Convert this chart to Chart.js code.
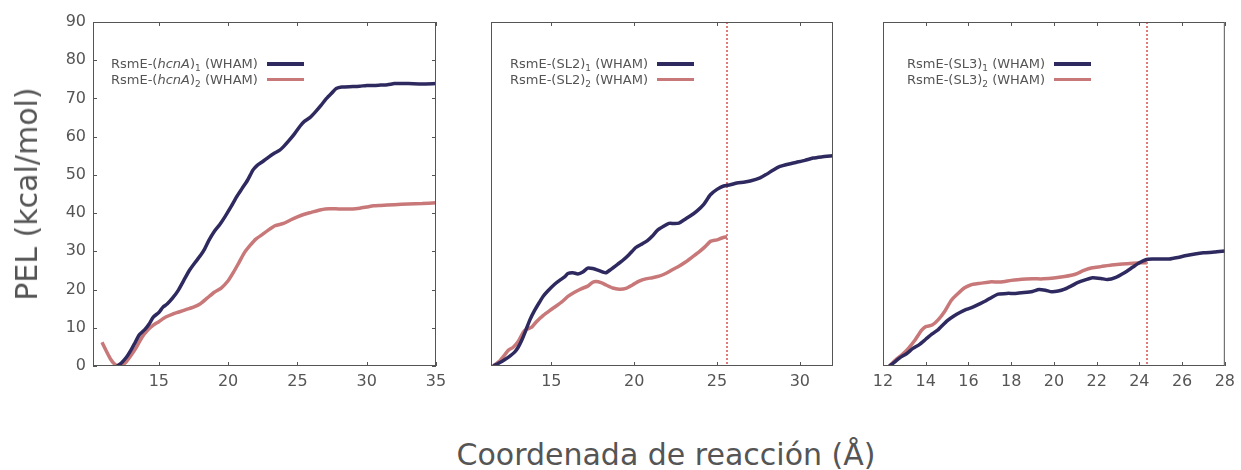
<!DOCTYPE html>
<html>
<head>
<meta charset="utf-8">
<script src="https://cdn.jsdelivr.net/npm/chart.js@4.4.1/dist/chart.umd.min.js"></script>
<style>
body { margin: 0; background: #fff; font-family: "DejaVu Sans", sans-serif; color: #555; }
#wrap { position: relative; width: 1241px; height: 470px; overflow: hidden; }
#wrap canvas { position: absolute; top: 0; }
.leg { position: absolute; top: 56px; display: grid; grid-template-columns: auto 37px; column-gap: 9px;
       font-size: 13px; line-height: 15.5px; align-items: center; white-space: nowrap; }
.leg .h { height: 3.5px; }
.leg sub { font-size: 9px; line-height: 0; vertical-align: -3px; }
.title { position: absolute; font-size: 30px; line-height: 30px; white-space: nowrap; }
</style>
</head>
<body>
<div id="wrap">
  <canvas id="c1" width="460" height="400" style="left:0"></canvas>
  <canvas id="c2" width="380" height="400" style="left:470px"></canvas>
  <canvas id="c3" width="381" height="400" style="left:860px"></canvas>

  <div class="leg" style="left:111px">
    <span>RsmE-(<i>hcnA</i>)<sub>1</sub> (WHAM)</span><span class="h" style="background:#2e2a60"></span>
    <span>RsmE-(<i>hcnA</i>)<sub>2</sub> (WHAM)</span><span class="h" style="background:#c87878"></span>
  </div>
  <div class="leg" style="left:510px">
    <span>RsmE-(SL2)<sub>1</sub> (WHAM)</span><span class="h" style="background:#2e2a60"></span>
    <span>RsmE-(SL2)<sub>2</sub> (WHAM)</span><span class="h" style="background:#c87878"></span>
  </div>
  <div class="leg" style="left:907px">
    <span>RsmE-(SL3)<sub>1</sub> (WHAM)</span><span class="h" style="background:#2e2a60"></span>
    <span>RsmE-(SL3)<sub>2</sub> (WHAM)</span><span class="h" style="background:#c87878"></span>
  </div>

  <div class="title" style="left:26.6px;top:194px;transform:translate(-50%,-50%) rotate(-90deg)">PEL (kcal/mol)</div>
  <div class="title" style="left:666px;top:440px;transform:translateX(-50%)">Coordenada de reacción (Å)</div>
</div>

<script>
// ── Data ──
const yTicks = [0, 10, 20, 30, 40, 50, 60, 70, 80, 90];
const xTicksHcnA = [15, 20, 25, 30, 35];
const xTicksSL2 = [15, 20, 25, 30];
const xTicksSL3 = [12, 14, 16, 18, 20, 22, 24, 26, 28];

const hcnA1X = [12.0, 12.3, 12.7, 13.0, 13.3, 13.6, 14.0, 14.3, 14.6, 15.0, 15.3, 15.6, 16.0, 16.4, 16.8, 17.2, 17.6, 18.0, 18.3, 18.6,
                19.0, 19.4, 19.8, 20.2, 20.6, 21.0, 21.4, 21.8, 22.1, 22.5, 22.9, 23.3, 23.7, 24.0, 24.4, 24.8, 25.2, 25.5, 25.9, 26.3,
                26.7, 27.1, 27.5, 27.8, 28.2, 29.0, 29.5, 30.0, 30.5, 31.0, 31.5, 32.0, 32.5, 33.0, 34.0, 35.0];
const hcnA1Y = [0.0, 0.8, 2.5, 4.2, 6.2, 8.2, 9.6, 11.0, 12.8, 14.0, 15.4, 16.2, 17.8, 19.8, 22.4, 25.0, 27.0, 28.9, 30.6, 32.8,
                35.2, 37.0, 39.2, 41.6, 44.2, 46.4, 48.6, 51.3, 52.5, 53.5, 54.6, 55.6, 56.4, 57.4, 59.0, 60.8, 62.8, 64.0, 65.0, 66.5,
                68.2, 70.0, 71.5, 72.6, 73.0, 73.1, 73.2, 73.4, 73.4, 73.5, 73.6, 73.9, 73.9, 73.9, 73.8, 73.9];
const hcnA2X = [10.9, 11.2, 11.5, 11.8, 12.0, 12.3, 12.6, 13.0, 13.4, 13.8, 14.2, 14.6, 15.0, 15.5, 16.0, 16.5, 17.0, 17.5, 18.0, 18.5,
                19.0, 19.5, 20.0, 20.4, 20.8, 21.2, 21.6, 22.0, 22.5, 23.0, 23.4, 24.0, 24.5, 25.0, 25.5, 26.0, 26.5, 27.0, 28.0, 29.0,
                29.5, 30.0, 30.5, 31.0, 32.0, 33.0, 34.0, 35.0];
const hcnA2Y = [6.2, 4.0, 1.9, 0.5, 0.1, 0.2, 0.9, 2.8, 5.0, 7.6, 9.4, 10.7, 11.6, 12.8, 13.6, 14.2, 14.8, 15.4, 16.3, 17.8,
                19.3, 20.4, 22.3, 24.6, 27.2, 29.8, 31.6, 33.2, 34.5, 35.8, 36.7, 37.3, 38.2, 39.0, 39.7, 40.2, 40.7, 41.1, 41.1, 41.1,
                41.3, 41.6, 41.9, 42.0, 42.2, 42.4, 42.5, 42.7];

const sl2_1X = [11.5, 11.9, 12.2, 12.5, 12.8, 13.0, 13.2, 13.45, 13.7, 14.0, 14.3, 14.5, 14.8, 15.2, 15.5, 15.8, 16.0, 16.3, 16.6, 16.9,
                17.2, 17.5, 17.8, 18.1, 18.3, 18.6, 19.0, 19.3, 19.7, 20.1, 20.5, 20.8, 21.1, 21.4, 21.8, 22.1, 22.4, 22.7, 23.0, 23.4,
                23.8, 24.2, 24.6, 25.0, 25.4, 25.8, 26.2, 26.6, 27.0, 27.6, 28.0, 28.4, 28.8, 29.3, 29.8, 30.3, 30.8, 31.3, 32.0];
const sl2_1Y = [0.0, 0.9, 1.7, 2.6, 3.7, 4.9, 6.6, 9.2, 12.0, 14.6, 16.8, 18.2, 19.7, 21.4, 22.4, 23.3, 24.2, 24.4, 24.1, 24.6,
                25.6, 25.5, 25.1, 24.6, 24.4, 25.3, 26.6, 27.6, 29.2, 31.0, 32.0, 32.8, 34.0, 35.5, 36.6, 37.3, 37.3, 37.4, 38.2, 39.3,
                40.6, 42.3, 44.8, 46.2, 47.1, 47.4, 47.9, 48.1, 48.4, 49.2, 50.2, 51.3, 52.2, 52.8, 53.3, 53.8, 54.4, 54.7, 55.0];
const sl2_2X = [11.5, 11.9, 12.2, 12.4, 12.7, 13.0, 13.3, 13.5, 13.8, 14.1, 14.5, 14.9, 15.3, 15.7, 16.0, 16.4, 16.8, 17.2, 17.5, 17.7,
                18.0, 18.3, 18.7, 19.1, 19.5, 19.9, 20.3, 20.7, 21.1, 21.5, 21.9, 22.3, 22.7, 23.1, 23.5, 23.9, 24.3, 24.6, 25.0, 25.3, 25.6];
const sl2_2Y = [0.0, 1.4, 3.0, 4.1, 4.9, 6.4, 8.8, 9.6, 10.1, 11.6, 13.2, 14.5, 15.7, 17.0, 18.2, 19.3, 20.2, 20.9, 21.9, 22.1,
                21.8, 21.2, 20.4, 20.1, 20.3, 21.2, 22.2, 22.8, 23.1, 23.5, 24.2, 25.2, 26.1, 27.2, 28.5, 29.8, 31.3, 32.6, 33.0, 33.5, 33.8];

const sl3_1X = [12.3, 12.6, 12.8, 13.1, 13.4, 13.7, 14.0, 14.3, 14.6, 15.0, 15.3, 15.6, 15.9, 16.2, 16.5, 16.8, 17.1, 17.4, 17.8, 18.2,
                18.6, 19.0, 19.3, 19.6, 19.9, 20.2, 20.5, 20.8, 21.1, 21.5, 21.8, 22.2, 22.5, 22.9, 23.3, 23.7, 24.0, 24.3, 24.6, 25.0,
                25.4, 25.8, 26.2, 26.6, 27.0, 27.5, 28.0];
const sl3_1Y = [0.0, 1.3, 2.2, 3.2, 4.6, 5.6, 7.0, 8.4, 9.6, 11.8, 13.0, 14.0, 14.8, 15.4, 16.2, 17.0, 18.0, 18.8, 19.0, 19.0,
                19.2, 19.5, 20.0, 19.8, 19.4, 19.6, 20.1, 20.9, 21.8, 22.6, 23.1, 22.9, 22.6, 23.2, 24.4, 25.9, 27.0, 27.8, 28.0, 28.0,
                28.0, 28.4, 28.9, 29.3, 29.6, 29.8, 30.1];
const sl3_2X = [12.3, 12.6, 12.9, 13.2, 13.5, 13.8, 14.0, 14.3, 14.6, 14.9, 15.2, 15.5, 15.8, 16.1, 16.5, 17.0, 17.5, 18.0, 18.5, 19.0,
                19.5, 20.0, 20.5, 21.0, 21.4, 21.8, 22.2, 22.7, 23.2, 23.7, 24.1, 24.35];
const sl3_2Y = [0.0, 1.6, 3.0, 4.7, 6.8, 9.3, 10.3, 10.7, 12.2, 14.4, 17.2, 18.9, 20.4, 21.2, 21.6, 22.0, 22.0, 22.4, 22.7, 22.8,
                22.8, 23.0, 23.4, 24.0, 25.0, 25.7, 26.0, 26.4, 26.7, 26.9, 27.0, 27.0];

const markerSL2 = 25.6;
const markerSL3 = 24.35;

const NAVY = '#2e2a60', PINK = '#c87878', AXIS = '#555555';

// ── Frame, inward ticks and dotted marker ──
const framePlugin = {
    id: 'frame',
    beforeDatasetsDraw(chart, args, opts) {
        if (opts.markerX == null) return;
        const { ctx, chartArea: a, scales: { x } } = chart;
        const px = Math.round(x.getPixelForValue(opts.markerX));
        ctx.save();
        ctx.strokeStyle = '#e37a7a'; ctx.lineWidth = 2; ctx.setLineDash([2, 2]);
        ctx.beginPath(); ctx.moveTo(px, a.top); ctx.lineTo(px, a.bottom); ctx.stroke();
        ctx.restore();
    },
    afterDraw(chart, args, opts) {
        const { ctx, chartArea: a, scales: { x, y } } = chart;
        ctx.save();
        ctx.strokeStyle = AXIS; ctx.lineWidth = 1;
        ctx.strokeRect(a.left + 0.5, a.top + 0.5, a.right - a.left - 1, a.bottom - a.top - 1);
        ctx.beginPath();
        for (const t of x.ticks) {
            const px = Math.round(x.getPixelForValue(t.value)) + 0.5;
            ctx.moveTo(px, a.bottom); ctx.lineTo(px, a.bottom - 4);
            ctx.moveTo(px, a.top); ctx.lineTo(px, a.top + 4);
        }
        if (opts.yTicks) for (const t of y.ticks) {
            const py = Math.round(y.getPixelForValue(t.value)) + 0.5;
            ctx.moveTo(a.left, py); ctx.lineTo(a.left + 4, py);
            ctx.moveTo(a.right, py); ctx.lineTo(a.right - 4, py);
        }
        ctx.stroke();
        ctx.restore();
    }
};

const pts = (xs, ys) => xs.map((v, i) => ({ x: v, y: ys[i] }));
const tickFont = { family: 'DejaVu Sans', size: 16 };

function makePanel(id, pad, xMin, xMax, xTicks, s1, s2, showY, markerX) {
    const series = (data, color) => ({
        data, borderColor: color, borderWidth: 3.5, pointRadius: 0, tension: 0.2,
        borderJoinStyle: 'round', fill: false,
    });
    return new Chart(document.getElementById(id), {
        type: 'line',
        data: { datasets: [series(s1, NAVY), series(s2, PINK)] },
        options: {
            responsive: false, animation: false, devicePixelRatio: 1,
            layout: { padding: pad },
            plugins: { legend: { display: false }, tooltip: { enabled: false },
                       frame: { yTicks: showY, markerX } },
            scales: {
                x: {
                    type: 'linear', min: xMin, max: xMax,
                    grid: { display: false, drawTicks: false }, border: { display: false },
                    afterBuildTicks: s => { s.ticks = xTicks.map(v => ({ value: v })); },
                    afterFit: s => { s.height = 34; },
                    ticks: { font: tickFont, color: AXIS, padding: 6, maxRotation: 0,
                             autoSkip: false, includeBounds: false },
                },
                y: {
                    display: showY, min: 0, max: 90,
                    grid: { display: false, drawTicks: false }, border: { display: false },
                    afterBuildTicks: s => { s.ticks = yTicks.map(v => ({ value: v })); },
                    afterFit: s => { s.width = showY ? 93 : 0; },
                    ticks: { font: tickFont, color: AXIS, padding: 7 },
                }
            }
        },
        plugins: [framePlugin]
    });
}

makePanel('c1', { top: 22, right: 24, left: 0, bottom: 0 }, 10.25, 35, xTicksHcnA,
          pts(hcnA1X, hcnA1Y), pts(hcnA2X, hcnA2Y), true, null);
makePanel('c2', { top: 22, right: 17, left: 21, bottom: 0 }, 11.36, 32, xTicksSL2,
          pts(sl2_1X, sl2_1Y), pts(sl2_2X, sl2_2Y), false, markerSL2);
makePanel('c3', { top: 22, right: 15, left: 23, bottom: 0 }, 12, 28, xTicksSL3,
          pts(sl3_1X, sl3_1Y), pts(sl3_2X, sl3_2Y), false, markerSL3);
</script>
</body>
</html>
